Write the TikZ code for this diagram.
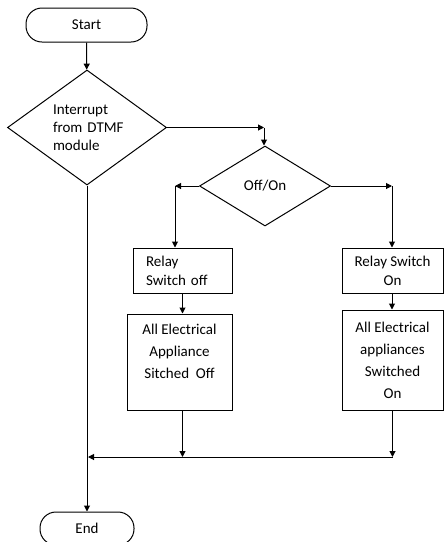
\documentclass[tikz,border=0pt]{standalone}
\usepackage{fontspec}
\setmainfont{Carlito}
\usetikzlibrary{arrows.meta,positioning,shapes.geometric}

\begin{document}
\begin{tikzpicture}[x=1pt,y=-1pt,line width=1pt,
  term/.style={draw,rectangle,rounded corners=16pt,minimum width=121pt,minimum height=34pt,inner sep=0pt,font=\fontsize{15}{18}\selectfont},
  decide/.style={draw,diamond,aspect=1.4,inner sep=0pt,font=\fontsize{15}{18}\selectfont},
  proc/.style={draw,rectangle,inner sep=0pt,align=center,font=\fontsize{15}{22}\selectfont},
  arr/.style={-{Triangle[length=6pt,width=6pt]}}]
\useasboundingbox (0,0) rectangle (444,542);
\node[term] (start) at (86.5,25) {Start};
\node[decide,minimum width=159pt,minimum height=115pt,text width=76pt,align=left] (intr) at (87,127.5) {\hspace*{4pt}Interrupt\\\hspace*{4pt}from DTMF\\\hspace*{4pt}module};
\coordinate (turn) at (264,127.5);
\node[decide,minimum width=131pt,minimum height=80pt] (sw) at (265,186) {Off/On};
\coordinate (lturn) at (175,186);
\coordinate (rturn) at (392,186);
\node[proc,minimum width=99pt,minimum height=45pt,text width=73pt,align=left,font=\fontsize{15}{19}\selectfont] (roff) at (182.5,270.5) {Relay\\Switch off};
\node[proc,minimum width=101pt,minimum height=45pt,font=\fontsize{15}{19}\selectfont] (ron) at (392.5,270.5) {Relay Switch\\On};
\node[proc,minimum width=105pt,minimum height=96pt] (aoff) at (179.5,362) {All Electrical\\Appliance\\Sitched\ \ Off\\\mbox{}};
\node[proc,minimum width=101pt,minimum height=100pt] (aon) at (392.5,360) {All Electrical\\appliances\\Switched\\On};
\coordinate (join) at (88,457);
\node[term,minimum width=94pt,minimum height=33pt] (end) at (87,528.5) {End};
% connectors
\draw[arr] (start) -- (intr);
\draw[arr] (intr.east) -- (turn);
\draw[arr] (turn) -- (turn |- sw.north);
\draw[arr] (sw.west) -- (lturn);
\draw[arr] (lturn) -- (lturn |- roff.north);
\draw[arr] (sw.east) -- (rturn);
\draw[arr] (rturn) -- (rturn |- ron.north);
\draw[arr] (roff.south) -- (roff.south |- aoff.north);
\draw[arr] (rturn |- ron.south) -- (rturn |- aon.north);
\draw[arr] (roff.south |- aoff.south) -- (roff.south |- join);
\draw[arr] (aon.south) -- (aon.south |- join);
\draw[arr] (aon.south |- join) -- (join);
\draw[arr] (intr.south) -- (end.north);
\end{tikzpicture}
\end{document}
